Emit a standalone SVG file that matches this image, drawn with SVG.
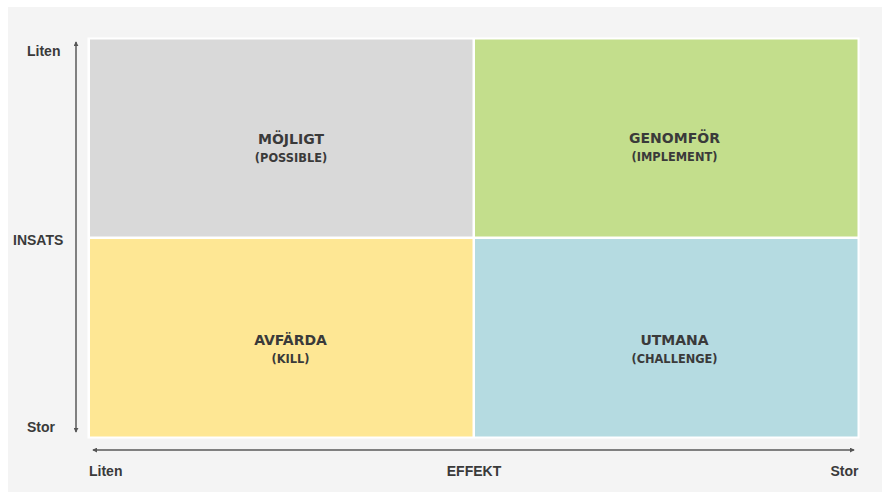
<svg xmlns="http://www.w3.org/2000/svg" width="882" height="494" viewBox="0 0 882 494">
  <defs>
    <marker id="tip" viewBox="0 0 6 6" refX="5" refY="3" markerWidth="5" markerHeight="5" markerUnits="userSpaceOnUse" orient="auto-start-reverse">
      <path d="M0,0 L6,3 L0,6 Z" fill="#555555"/>
    </marker>
  </defs>
  <style>
    .axis { stroke: #5a5a5a; stroke-width: 1.5; fill: none; }
    .ax { font-family: "Liberation Sans", Arial, sans-serif; font-weight: bold; font-size: 14px; fill: #3a3a3a; }
    .qt { font-family: "DejaVu Sans", sans-serif; font-weight: bold; font-size: 14px; fill: #3a3a3a; text-anchor: middle; }
    .qs { font-family: "DejaVu Sans", sans-serif; font-weight: bold; font-size: 11.4px; fill: #3a3a3a; text-anchor: middle; }
  </style>

  <!-- backdrop -->
  <rect x="0" y="0" width="882" height="494" fill="#ffffff"/>
  <rect x="8" y="7" width="874" height="485" fill="#f4f4f4"/>

  <!-- matrix frame -->
  <rect x="87.5" y="37.5" width="772" height="401" fill="#ffffff"/>

  <g id="mojligt">
    <rect x="90" y="39.5" width="382.5" height="197" fill="#d9d9d9"/>
    <text class="qt" x="291" y="144">MÖJLIGT</text>
    <text class="qs" x="291" y="162">(POSSIBLE)</text>
  </g>
  <g id="genomfor">
    <rect x="475" y="39.5" width="382.5" height="197" fill="#c3de8c"/>
    <text class="qt" x="674.5" y="143">GENOMFÖR</text>
    <text class="qs" x="674.5" y="161">(IMPLEMENT)</text>
  </g>
  <g id="avfarda">
    <rect x="90" y="239" width="382.5" height="197.5" fill="#fee794"/>
    <text class="qt" x="290.5" y="345">AVFÄRDA</text>
    <text class="qs" x="290.5" y="363">(KILL)</text>
  </g>
  <g id="utmana">
    <rect x="475" y="239" width="382.5" height="197.5" fill="#b5dbe1"/>
    <text class="qt" x="674.5" y="345">UTMANA</text>
    <text class="qs" x="674.5" y="363">(CHALLENGE)</text>
  </g>

  <!-- axes -->
  <g id="connectors">
    <line class="axis" x1="76" y1="42" x2="76" y2="432" marker-start="url(#tip)" marker-end="url(#tip)"/>
    <line class="axis" x1="93" y1="450" x2="854" y2="450" marker-start="url(#tip)" marker-end="url(#tip)"/>
  </g>

  <!-- axis labels -->
  <text class="ax" x="27" y="55.5">Liten</text>
  <text class="ax" x="13" y="245">INSATS</text>
  <text class="ax" x="27" y="432">Stor</text>
  <text class="ax" x="89" y="476">Liten</text>
  <text class="ax" x="474" y="476" text-anchor="middle">EFFEKT</text>
  <text class="ax" x="858.5" y="476" text-anchor="end">Stor</text>
</svg>
